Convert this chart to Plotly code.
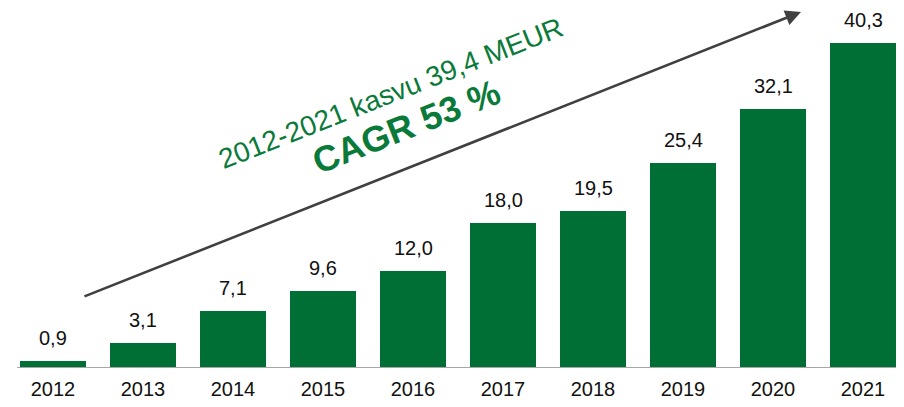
import plotly.graph_objects as go

years = [2012, 2013, 2014, 2015, 2016, 2017, 2018, 2019, 2020, 2021]
values = [0.9, 3.1, 7.1, 9.6, 12.0, 18.0, 19.5, 25.4, 32.1, 40.3]
labels = [f"{v:.1f}".replace(".", ",") for v in values]
tick_labels = [str(y) for y in years]

GREEN = "#006F35"
TEXT_GREEN = "#0A7A3A"
FONT = "Liberation Sans, Arial, sans-serif"

# page is rendered with an 8px body margin: figure origin sits at page (8, 8)
OFF = 8
W, H = 904 - OFF, 407 - OFF
px_per_cat = 90.0
x0 = years[0] - (53 - OFF) / px_per_cat
x1 = x0 + W / px_per_cat
axis_page = 368
axis_fig = axis_page - OFF
px_per_unit = 8.06
y_top = axis_fig / px_per_unit


def xp(px):
    return x0 + (px - OFF) / px_per_cat


def yp(py):
    return (axis_page - py) / px_per_unit


fig = go.Figure()
fig.add_trace(go.Bar(
    x=years, y=values, width=0.733, marker=dict(color=GREEN, line=dict(width=0)),
    hoverinfo="skip",
))

for yr, v, t in zip(years, values, labels):
    fig.add_annotation(x=yr, y=v, text=t, showarrow=False, yanchor="bottom",
                       yshift=10, font=dict(family=FONT, size=20, color="#111111"))

# arrow
fig.add_annotation(x=xp(801), y=yp(12), ax=xp(83), ay=yp(297), xref="x", yref="y",
                   axref="x", ayref="y", text="", showarrow=True, arrowhead=2,
                   arrowsize=1.2, arrowwidth=2.6, arrowcolor="#404040")

fig.add_annotation(x=xp(390), y=yp(93), xref="x", yref="y",
                   text="2012-2021 kasvu 39,4 MEUR", showarrow=False, textangle=-21.5,
                   borderpad=0, font=dict(family=FONT, size=28, color=TEXT_GREEN))
fig.add_annotation(x=xp(406), y=yp(126), xref="x", yref="y",
                   text="<b>CAGR 53 %</b>", showarrow=False, textangle=-21.5,
                   borderpad=0, font=dict(family=FONT, size=36, color=TEXT_GREEN))

fig.update_layout(
    width=W, height=H, margin=dict(l=0, r=0, t=0, b=H - axis_fig),
    plot_bgcolor="white", paper_bgcolor="white", showlegend=False,
    bargap=0,
    xaxis=dict(range=[x0, x1], tickmode="array", tickvals=years, ticktext=tick_labels,
               showgrid=False, zeroline=False, showline=False, ticks="",
               tickfont=dict(family=FONT, size=20, color="#111111"), ticklabelstandoff=7),
    yaxis=dict(range=[0, y_top], visible=False, showgrid=False, zeroline=False),
)
fig.add_shape(type="line", xref="x", yref="y", x0=xp(17), x1=x1, y0=0, y1=0,
              line=dict(color="#A6A6A6", width=2), layer="above")

fig.write_html("out.html")
